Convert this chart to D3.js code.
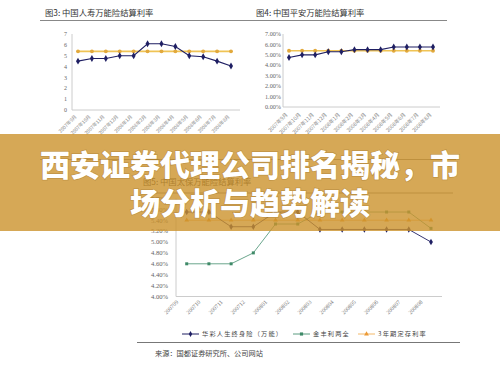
<!DOCTYPE html>
<html><head><meta charset="utf-8">
<script src="https://cdn.jsdelivr.net/npm/d3@7/dist/d3.min.js"></script>
<style>
html,body{margin:0;padding:0;background:#fff;}
svg{display:block;}
</style></head>
<body>
<svg id="c" width="500" height="366"></svg>
<script>
// ---------- data ----------
const months = ["2007年9月","2007年10月","2007年11月","2007年12月","2008年1月","2008年2月","2008年3月","2008年4月","2008年5月","2008年6月","2008年7月","2008年8月"];
const months3 = ["200709","200710","200711","200712","200801","200802","200803","200804","200805","200806","200807","200808"];
const lifeRate = [4.5,4.75,4.75,5.0,5.0,6.1,6.1,5.85,5.0,4.9,4.5,4.05];
const lifeDeposit = [5.4,5.4,5.4,5.4,5.4,5.4,5.4,5.4,5.4,5.4,5.4,5.4];
const pinganRate = [4.75,5.0,5.0,5.3,5.3,5.5,5.5,5.5,5.75,5.75,5.75,5.75];
const pinganDeposit = [5.4,5.4,5.4,5.4,5.4,5.4,5.4,5.4,5.4,5.4,5.4,5.4];
const huacai = [5.55,5.55,5.28,5.28,5.55,5.55,5.23,5.23,5.23,5.23,5.23,5.0];
const jinfengli = [4.6,4.6,4.6,4.8,5.33,5.33,5.55,5.55,5.55,5.55,5.55,5.25];
const deposit3 = [5.4,5.4,5.4,5.4,5.4,5.4,5.4,5.4,5.4,5.4,5.4,5.4];
const ticks1 = [0,1,2,3,4,5,6,7];
const ticks2 = [0,1,2,3,4,5,6,7];
const ticks3 = [4.0,4.2,4.4,4.6,4.8,5.0,5.2,5.4,5.6,5.8];
const titles = ["图3:  中国人寿万能险结算利率","图4:  中国平安万能险结算利率","图5:  中国太保万能险结算利率"];
const legend3 = ["华彩人生终身险（万能）","金丰利两全","3年期定存利率"];
const source = "来源：国都证券研究所、公司网站";
const bannerLines = ["西安证券代理公司排名揭秘，市","场分析与趋势解读"];

const NAVY = "#1f1f63", GOLD = "#f0c455", GOLDM = "#e2a93c";
const GREEN = "#5a9c80", GREENM = "#3f8a68", ORANGE = "#f3b868", ORANGEM = "#ec9a36";
const CJK = "'Noto Sans CJK SC','Noto Sans',sans-serif";
const NUM = "'Liberation Serif','Noto Sans CJK SC',serif";

const svg = d3.select("#c");
const diamond = d3.symbol().type(d3.symbolDiamond);
const circle = d3.symbol().type(d3.symbolCircle);
const square = d3.symbol().type(d3.symbolSquare);
const tri = d3.symbol().type(d3.symbolTriangle);

function series(g, x, y, cats, vals, color, width, sym, size, mcolor){
  g.append("path").datum(vals)
    .attr("fill","none").attr("stroke",color).attr("stroke-width",width)
    .attr("d", d3.line().x((d,i)=>x(cats[i])).y(d=>y(d)));
  g.selectAll(null).data(vals).enter().append("path")
    .attr("transform",(d,i)=>`translate(${x(cats[i])},${y(d)})`)
    .attr("d", sym.size(size)()).attr("fill", mcolor);
}

// ---------- titles & header rule ----------
svg.append("text").attr("x",45).attr("y",16).text(titles[0])
  .attr("font-family",CJK).attr("font-size",8.3).attr("fill","#333");
svg.append("text").attr("x",256).attr("y",16).text(titles[1])
  .attr("font-family",CJK).attr("font-size",8.3).attr("fill","#333");
svg.append("line").attr("x1",40).attr("x2",447).attr("y1",20.5).attr("y2",20.5)
  .attr("stroke","#888").attr("stroke-width",1);

// ---------- chart 1 ----------
{
  const g = svg.append("g");
  const x = d3.scalePoint().domain(months).range([78,231]);
  const y = d3.scaleLinear().domain([0,7]).range([110,34]);
  g.append("line").attr("x1",72).attr("x2",72).attr("y1",y(7)).attr("y2",y(0)).attr("stroke","#ccc");
  g.append("line").attr("x1",72).attr("x2",240).attr("y1",y(0)).attr("y2",y(0)).attr("stroke","#ccc");
  g.selectAll(null).data(ticks1).enter().append("text")
    .attr("x",67).attr("y",d=>y(d)).attr("dy","0.35em").attr("text-anchor","end")
    .attr("font-family",NUM).attr("font-size",6).attr("fill","#666").text(d=>d);
  g.selectAll(null).data(months).enter().append("text")
    .attr("transform",d=>`translate(${x(d)-1},${y(0)+7}) rotate(-45)`)
    .attr("text-anchor","end").attr("font-family",CJK).attr("font-size",4.8).attr("fill","#888").text(d=>d);
  series(g,x,y,months,lifeDeposit,GOLD,1.6,circle,12,GOLDM);
  series(g,x,y,months,lifeRate,NAVY,1.1,diamond,14,NAVY);
}

// ---------- chart 2 ----------
{
  const g = svg.append("g");
  const x = d3.scalePoint().domain(months).range([289,433]);
  const y = d3.scaleLinear().domain([0,7]).range([107,34]);
  g.append("line").attr("x1",283).attr("x2",283).attr("y1",y(7)).attr("y2",y(0)).attr("stroke","#ccc");
  g.append("line").attr("x1",283).attr("x2",440).attr("y1",y(0)).attr("y2",y(0)).attr("stroke","#ccc");
  g.selectAll(null).data(ticks2).enter().append("text")
    .attr("x",281).attr("y",d=>y(d)).attr("dy","0.35em").attr("text-anchor","end")
    .attr("font-family",NUM).attr("font-size",6.2).attr("fill","#666").text(d=>d.toFixed(2)+"%");
  g.selectAll(null).data(months).enter().append("text")
    .attr("transform",d=>`translate(${x(d)-1},${y(0)+8}) rotate(-45)`)
    .attr("text-anchor","end").attr("font-family",CJK).attr("font-size",5.2).attr("fill","#888").text(d=>d);
  series(g,x,y,months,pinganDeposit,GOLD,1.6,circle,12,GOLDM);
  series(g,x,y,months,pinganRate,NAVY,1.1,diamond,14,NAVY);
}

// rule between the top charts and chart 3 (under the banner)
svg.append("line").attr("x1",40).attr("x2",456).attr("y1",159.5).attr("y2",159.5).attr("stroke","#888");

// ---------- chart 3 ----------
svg.append("text").attr("x",143).attr("y",185).text(titles[2])
  .attr("font-family",CJK).attr("font-size",8.3).attr("fill","#333");
svg.append("line").attr("x1",140).attr("x2",453).attr("y1",193).attr("y2",193).attr("stroke","#888");
{
  const g = svg.append("g");
  const x = d3.scalePoint().domain(months3).range([186.7,431]);
  const y = d3.scaleLinear().domain([4.0,5.8]).range([296.5,198.4]);
  g.append("line").attr("x1",176).attr("x2",176).attr("y1",y(5.8)).attr("y2",y(4.0)).attr("stroke","#ccc");
  g.append("line").attr("x1",176).attr("x2",442).attr("y1",y(4.0)).attr("y2",y(4.0)).attr("stroke","#ccc");
  g.selectAll(null).data(ticks3).enter().append("text")
    .attr("x",168).attr("y",d=>y(d)).attr("dy","0.35em").attr("text-anchor","end")
    .attr("font-family",NUM).attr("font-size",6.6).attr("fill","#666").text(d=>d.toFixed(2)+"%");
  g.selectAll(null).data(months3).enter().append("text")
    .attr("transform",d=>`translate(${x(d)-8},${y(4.0)+6}) rotate(-45)`)
    .attr("text-anchor","end").attr("font-family",NUM).attr("font-size",5.8).attr("fill","#777").text(d=>d);
  series(g,x,y,months3,deposit3,ORANGE,0.9,tri,10,ORANGEM);
  series(g,x,y,months3,jinfengli,GREEN,0.9,square,9,GREENM);
  series(g,x,y,months3,huacai,NAVY,0.9,diamond,12,NAVY);

  // legend
  const items = [[182,legend3[0],NAVY,diamond],[293,legend3[1],GREEN,square],[358,legend3[2],ORANGE,tri]];
  items.forEach(([lx,t,c,s],i)=>{
    g.append("line").attr("x1",lx).attr("x2",lx+17).attr("y1",334).attr("y2",334).attr("stroke",c).attr("stroke-width",1);
    g.append("path").attr("transform",`translate(${lx+8.5},334)`).attr("d",s.size(10)()).attr("fill",[NAVY,GREENM,ORANGEM][i]);
    g.append("text").attr("x",lx+20).attr("y",334).attr("dy","0.35em").attr("font-family",CJK)
      .attr("font-size",6.2).attr("letter-spacing",1.2).attr("fill","#444").text(t);
  });
  svg.append("line").attr("x1",137).attr("x2",460).attr("y1",342.5).attr("y2",342.5).attr("stroke","#777");
  svg.append("text").attr("x",155).attr("y",356).attr("font-family",CJK).attr("font-size",7.2)
    .attr("fill","#444").text(source);
}

// ---------- banner ----------
svg.append("rect").attr("x",0).attr("y",134).attr("width",500).attr("height",97)
  .attr("fill","rgb(204,146,44)").attr("fill-opacity",0.8);
svg.selectAll(null).data(bannerLines).enter().append("text")
  .attr("x",250).attr("y",(d,i)=>165+i*38).attr("dy","0.36em").attr("text-anchor","middle")
  .attr("font-family",CJK).attr("font-weight",900).attr("font-size",30).attr("fill","#fff")
  .style("paint-order","stroke").attr("stroke","rgba(120,80,20,0.25)").attr("stroke-width",1.5)
  .text(d=>d);
</script>
</body></html>
